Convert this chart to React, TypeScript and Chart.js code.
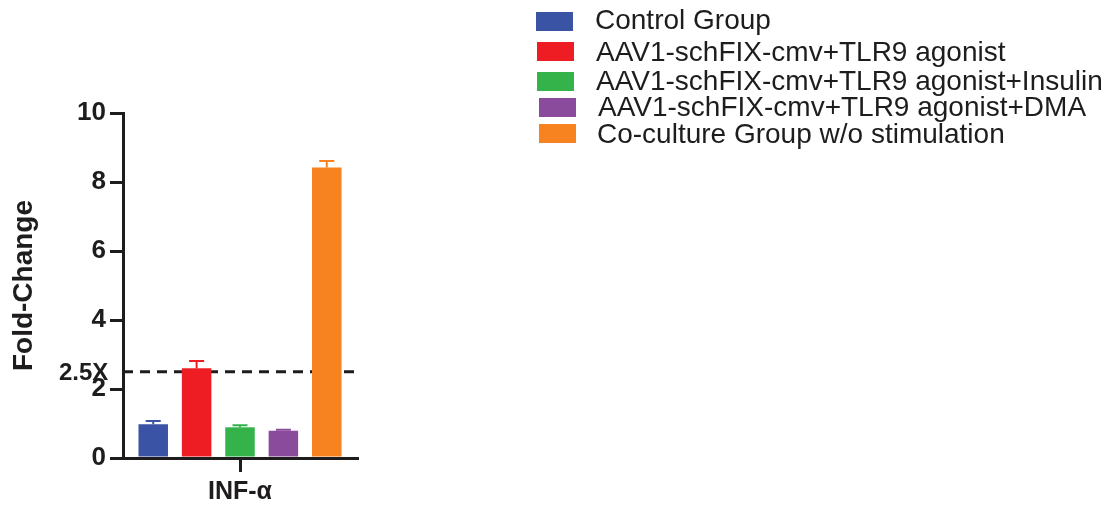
import React, { useEffect, useRef } from "react";
import { Chart, registerables } from "chart.js";

Chart.register(...registerables);

const categories = ["INF-α"];
const seriesLabels = [
  "Control Group",
  "AAV1-schFIX-cmv+TLR9 agonist",
  "AAV1-schFIX-cmv+TLR9 agonist+Insulin",
  "AAV1-schFIX-cmv+TLR9 agonist+DMA",
  "Co-culture Group w/o stimulation",
];
const seriesMeans = [0.98, 2.6, 0.89, 0.79, 8.42];
const seriesErrors = [0.09, 0.21, 0.06, 0.03, 0.19];
const seriesColors = ["#3A53A4", "#EE1D24", "#33B34A", "#8A4B9C", "#F78220"];
const yTicks = [0, 2, 4, 6, 8, 10];
const thresholdValue = 2.5;
const thresholdLabel = "2.5X";

const FONT = "'Liberation Sans', Arial, Helvetica, sans-serif";
const INK = "#1E1C1D";

// legend layout (pixel positions)
const legendBoxX = [536, 537, 537, 539, 539];
const legendBoxY = [12, 42, 72, 98, 124];
const legendTextX = [595, 596, 596, 598, 597];
const legendBaseline = [29, 61, 90, 116, 143];

const legendPlugin = {
  id: "customLegend",
  afterDraw(chart: any) {
    const ctx = chart.ctx;
    ctx.save();
    chart.data.datasets.forEach((ds: any, i: number) => {
      ctx.fillStyle = ds.backgroundColor;
      ctx.fillRect(legendBoxX[i], legendBoxY[i], 37, 19);
      ctx.fillStyle = INK;
      ctx.font = `28px ${FONT}`;
      ctx.textAlign = "left";
      ctx.textBaseline = "alphabetic";
      ctx.fillText(ds.label, legendTextX[i], legendBaseline[i]);
    });
    ctx.restore();
  },
};

const thresholdPlugin = {
  id: "threshold",
  beforeDatasetsDraw(chart: any) {
    const { ctx, chartArea, scales } = chart;
    const y = scales.y.getPixelForValue(thresholdValue);
    ctx.save();
    ctx.strokeStyle = INK;
    ctx.lineWidth = 3;
    ctx.setLineDash([10, 7]);
    ctx.beginPath();
    ctx.moveTo(chartArea.left, y);
    ctx.lineTo(chartArea.right, y);
    ctx.stroke();
    ctx.restore();
  },
  afterDraw(chart: any) {
    const { ctx, scales } = chart;
    const y = scales.y.getPixelForValue(thresholdValue);
    ctx.save();
    ctx.fillStyle = INK;
    ctx.font = `bold 24px ${FONT}`;
    ctx.textAlign = "left";
    ctx.textBaseline = "alphabetic";
    ctx.fillText(thresholdLabel, 59, y + 8);
    ctx.restore();
  },
};

const errorBarPlugin = {
  id: "errorBars",
  afterDatasetsDraw(chart: any) {
    const { ctx, scales } = chart;
    ctx.save();
    chart.data.datasets.forEach((ds: any, i: number) => {
      const meta = chart.getDatasetMeta(i);
      meta.data.forEach((bar: any, j: number) => {
        const top = scales.y.getPixelForValue(ds.data[j] + ds.errors[j]);
        ctx.strokeStyle = ds.backgroundColor;
        ctx.lineWidth = 2;
        ctx.beginPath();
        ctx.moveTo(bar.x, bar.y);
        ctx.lineTo(bar.x, top);
        ctx.moveTo(bar.x - 7.5, top);
        ctx.lineTo(bar.x + 7.5, top);
        ctx.stroke();
      });
    });
    ctx.restore();
  },
};

export default function App() {
  const ref = useRef<HTMLCanvasElement | null>(null);
  useEffect(() => {
    if (!ref.current) return;
    const chart = new Chart(ref.current, {
      type: "bar",
      data: {
        labels: categories,
        datasets: seriesLabels.map((label, i) => ({
          label,
          data: [seriesMeans[i]],
          errors: [seriesErrors[i]],
          backgroundColor: seriesColors[i],
          borderWidth: 0,
          categoryPercentage: 0.927,
          barPercentage: 0.68,
        })) as any,
      },
      options: {
        animation: false,
        responsive: false,
        devicePixelRatio: 1,
        layout: { padding: { top: 113, right: 758, bottom: 0, left: 0 } },
        plugins: {
          legend: { display: false },
          tooltip: { enabled: false },
          title: { display: false },
        },
        scales: {
          x: {
            grid: {
              offset: false,
              drawOnChartArea: false,
              drawTicks: true,
              tickLength: 14,
              lineWidth: 3,
              color: INK,
            },
            border: { display: true, width: 3, color: INK },
            ticks: {
              color: INK,
              font: { family: FONT, size: 25, weight: "bold" },
              padding: 5,
            },
            afterFit: (s: any) => {
              s.height = 48;
            },
          },
          y: {
            min: 0,
            max: 10,
            afterBuildTicks: (s: any) => {
              s.ticks = yTicks.map((v) => ({ value: v }));
            },
            grid: {
              drawOnChartArea: false,
              drawTicks: true,
              tickLength: 13,
              lineWidth: 3,
              color: INK,
            },
            border: { display: true, width: 3, color: INK },
            ticks: {
              color: INK,
              font: { family: FONT, size: 26, weight: "bold" },
              padding: 4,
            },
            title: {
              display: true,
              text: "Fold-Change",
              color: INK,
              font: { family: FONT, size: 28, weight: "bold" },
              padding: { top: 7, bottom: 0 },
            },
            afterFit: (s: any) => {
              s.width = 123;
            },
          },
        },
      } as any,
      plugins: [thresholdPlugin, errorBarPlugin, legendPlugin],
    });
    return () => chart.destroy();
  }, []);
  return (
    <div style={{ position: "fixed", left: 0, top: 0, width: 1115, height: 506, background: "#fff" }}>
      <canvas ref={ref} width={1115} height={506} style={{ width: 1115, height: 506, display: "block" }} />
    </div>
  );
}
